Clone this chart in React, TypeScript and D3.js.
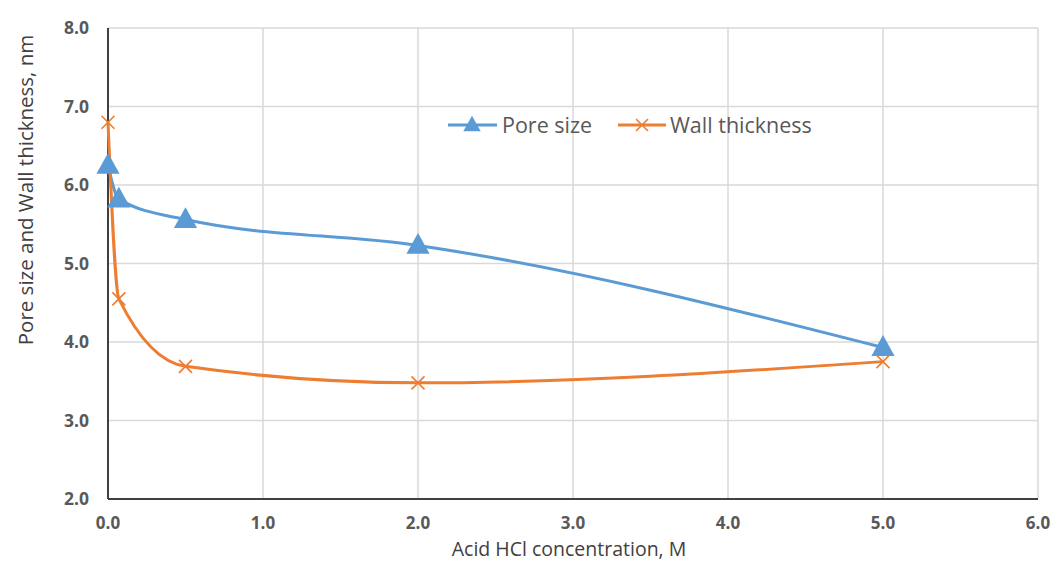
import React from "react";
import * as d3 from "d3";

// values
const concentration = [0, 0.07, 0.5, 2.0, 5.0];
const poreSize = [6.25, 5.82, 5.56, 5.23, 3.93];
const wallThickness = [6.8, 4.55, 3.69, 3.48, 3.75];
const xTicks = [0, 1, 2, 3, 4, 5, 6];
const yTicks = [2, 3, 4, 5, 6, 7, 8];

const W = 1055;
const H = 563;
const margin = { left: 108, right: 17, top: 28, bottom: 64 };

const BLUE = "#5b9bd5";
const ORANGE = "#ed7d31";
const FONT = "'Open Sans', 'Liberation Sans', sans-serif";

export default function App() {
  const x = d3.scaleLinear().domain([0, 6]).range([margin.left, W - margin.right]);
  const y = d3.scaleLinear().domain([2, 8]).range([H - margin.bottom, margin.top]);

  const line = d3
    .line<number>()
    .x((_, i) => x(concentration[i]))
    .y((d) => y(d))
    .curve(d3.curveMonotoneX);

  const tri = (cx: number, cy: number, s: number) =>
    `M${cx},${cy - s * 0.62}L${cx + s * 0.58},${cy + s * 0.42}L${cx - s * 0.58},${cy + s * 0.42}Z`;
  const cross = (cx: number, cy: number, s: number) =>
    `M${cx - s},${cy - s}L${cx + s},${cy + s}M${cx - s},${cy + s}L${cx + s},${cy - s}`;

  return (
    <svg width={W} height={H} style={{ position: "absolute", left: 0, top: 0 }}>
      <rect width={W} height={H} fill="#fff" />
      {/* grid */}
      {yTicks.map((t) => (
        <line key={"gy" + t} x1={x(0)} x2={x(6)} y1={y(t)} y2={y(t)} stroke="#d9d9d9" strokeWidth={1.5} />
      ))}
      {xTicks.map((t) => (
        <line key={"gx" + t} x1={x(t)} x2={x(t)} y1={y(2)} y2={y(8)} stroke="#d9d9d9" strokeWidth={1.5} />
      ))}
      {/* axes */}
      <line x1={x(0)} x2={x(0)} y1={y(2)} y2={y(8)} stroke="#404040" strokeWidth={2} />
      <line x1={x(0)} x2={x(6)} y1={y(2)} y2={y(2)} stroke="#404040" strokeWidth={2} />
      {yTicks.map((t) => (
        <text key={"ty" + t} x={x(0) - 19} y={y(t)} dy="0.35em" textAnchor="end"
          fontFamily={FONT} fontWeight="bold" fontSize={17.5} fill="#595959">
          {t.toFixed(1)}
        </text>
      ))}
      {xTicks.map((t) => (
        <text key={"tx" + t} x={x(t)} y={y(2) + 30} textAnchor="middle"
          fontFamily={FONT} fontWeight="bold" fontSize={17} fill="#595959">
          {t.toFixed(1)}
        </text>
      ))}
      <text x={569} y={556} textAnchor="middle" fontFamily={FONT} fontSize={19.5} fill="#404040">
        Acid HCl concentration,  M
      </text>
      <text transform="translate(33,190) rotate(-90)" textAnchor="middle" fontFamily={FONT} fontSize={20.5} fill="#404040">
        Pore size and Wall thickness, nm
      </text>
      {/* series */}
      <path d={line(poreSize) || ""} fill="none" stroke={BLUE} strokeWidth={3} />
      <path d={line(wallThickness) || ""} fill="none" stroke={ORANGE} strokeWidth={3} />
      {poreSize.map((v, i) => (
        <path key={"p" + i} d={tri(x(concentration[i]), y(v), 20)} fill={BLUE} />
      ))}
      {wallThickness.map((v, i) => (
        <path key={"w" + i} d={cross(x(concentration[i]), y(v), 6.5)} stroke={ORANGE} strokeWidth={1.6} fill="none" />
      ))}
      {/* legend */}
      <g fontFamily={FONT} fontSize={21.5} fill="#595959">
        <line x1={448} x2={497} y1={125} y2={125} stroke={BLUE} strokeWidth={3} />
        <path d={tri(472, 125, 15)} fill={BLUE} />
        <text x={502} y={125} dy="0.35em">Pore size</text>
        <line x1={618} x2={666} y1={125} y2={125} stroke={ORANGE} strokeWidth={3} />
        <path d={cross(642, 125, 6)} stroke={ORANGE} strokeWidth={1.6} fill="none" />
        <text x={670} y={125} dy="0.35em">Wall thickness</text>
      </g>
    </svg>
  );
}
